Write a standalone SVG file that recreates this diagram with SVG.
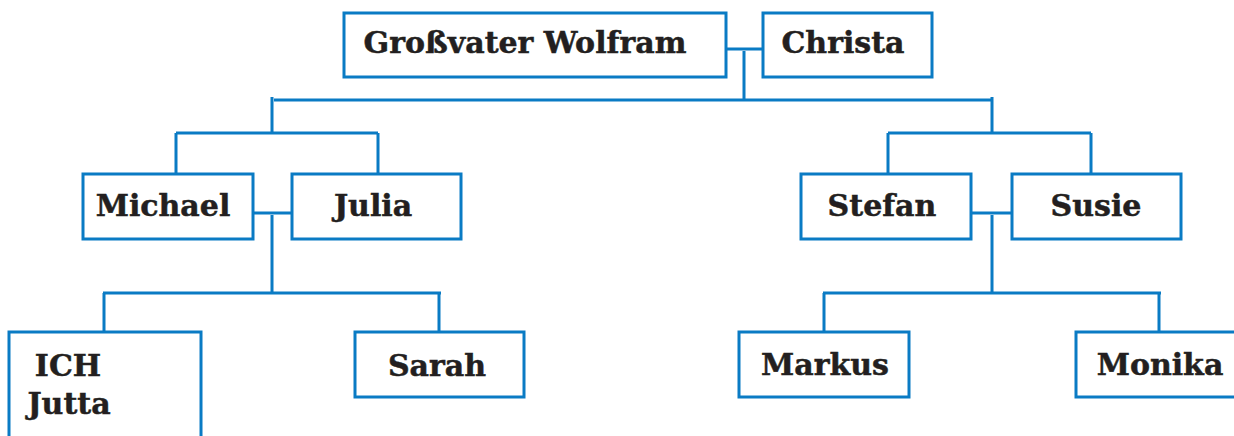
<svg xmlns="http://www.w3.org/2000/svg" width="1234" height="436" viewBox="0 0 1234 436">
<style>
.box{fill:#fff;stroke:#0a7bc4;stroke-width:3}
.ln{fill:none;stroke:#0a7bc4;stroke-width:3}
text{font-family:"DejaVu Serif","Liberation Serif",serif;font-weight:bold;font-size:30px;fill:#231f20;stroke:#231f20;stroke-width:0.5;text-anchor:middle}
</style>
<rect width="1234" height="436" fill="#fff"/>
<g id="connectors">
<path class="ln" d="M726 49H763M744 51V100M274 100H992M272 97V133M992 97V133M176 133H378M176 133V173M378 133V173M888 133H1091M888 133V173M1091 133V173"/>
<path class="ln" d="M253 213H292M272 215V293M103 293H441M104 293V332M439 293V332"/>
<path class="ln" d="M972 213H1012M992 215V293M823 293H1161M824 293V332M1159 293V332"/>
</g>
<g id="grossvater"><rect class="box" x="344" y="13" width="382" height="64"/><text x="525" y="53">Großvater Wolfram</text></g>
<g id="christa"><rect class="box" x="763" y="13" width="169" height="64"/><text x="843" y="53">Christa</text></g>
<g id="michael"><rect class="box" x="83" y="174" width="170" height="65"/><text x="163" y="216">Michael</text></g>
<g id="julia"><rect class="box" x="292" y="174" width="169" height="65"/><text x="373" y="216">Julia</text></g>
<g id="stefan"><rect class="box" x="801" y="174" width="170" height="65"/><text x="882" y="216">Stefan</text></g>
<g id="susie"><rect class="box" x="1012" y="174" width="169" height="65"/><text x="1096" y="216">Susie</text></g>
<g id="ich"><rect class="box" x="9" y="332" width="192" height="120"/><text x="68" y="376">ICH</text><text x="69" y="414">Jutta</text></g>
<g id="sarah"><rect class="box" x="355" y="332" width="169" height="65"/><text x="437" y="376">Sarah</text></g>
<g id="markus"><rect class="box" x="739" y="332" width="170" height="65"/><text x="825" y="375">Markus</text></g>
<g id="monika"><rect class="box" x="1076" y="332" width="180" height="65"/><text x="1160" y="375">Monika</text></g>
</svg>
